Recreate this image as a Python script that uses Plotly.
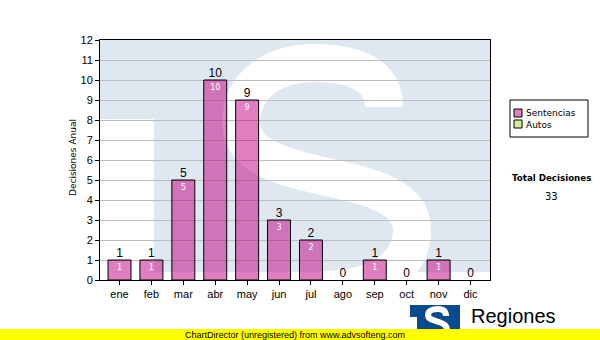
import base64
import plotly.graph_objects as go

months = ["ene", "feb", "mar", "abr", "may", "jun", "jul", "ago", "sep", "oct", "nov", "dic"]
sentencias = [1, 1, 5, 10, 9, 3, 2, 0, 1, 0, 1, 0]
autos = [0, 0, 0, 0, 0, 0, 0, 0, 0, 0, 0, 0]
y_ticks = list(range(0, 13))
total = sum(sentencias) + sum(autos)

PINK = "rgba(193,0,129,0.5)"
PINK_SOLID = "#e080c0"
GREEN = "#d4ec9c"
WM = "#dfe8f1"

# plot area: 390 x 240 px
PW, PH = 390, 240


def uri(svg):
    return "data:image/svg+xml;base64," + base64.b64encode(svg.encode()).decode()


wm_svg = f"""<svg xmlns="http://www.w3.org/2000/svg" width="{PW}" height="{PH}" viewBox="0 0 {PW} {PH}" preserveAspectRatio="none">
<rect x="0" y="0" width="{PW}" height="232" fill="{WM}"/>
<rect x="0" y="79" width="54" height="170" fill="white"/>
<path d="M 284 67 C 284 35, 255 23, 215 23 C 170 23, 141 48, 141 82 C 141 118, 185 128, 240 140
C 290 151, 312 165, 312 190 C 312 225, 280 250, 220 250"
 fill="none" stroke="white" stroke-width="38" stroke-linecap="butt"/>
</svg>"""

logo_svg = """<svg xmlns="http://www.w3.org/2000/svg" width="50" height="24" viewBox="0 0 50 24" preserveAspectRatio="none">
<rect x="0" y="0" width="50" height="24" fill="#0b4a8b"/>
<rect x="0" y="12" width="7" height="12" fill="white"/>
<path d="M 36 11 C 36 6, 33 4, 28 4 C 22 4, 18 6, 18 10 C 18 14, 22 15, 29 17 C 35 19, 37 21, 37 26"
 fill="none" stroke="white" stroke-width="6"/>
</svg>"""

fig = go.Figure()

fig.add_trace(go.Bar(
    x=months, y=sentencias, name="Sentencias",
    marker=dict(color=PINK, line=dict(color="black",
                                      width=[1 if v > 0 else 0 for v in sentencias])),
    width=0.72,
    text=[str(v) if v > 0 else "" for v in sentencias],
    textposition="inside", insidetextanchor="end",
    textfont=dict(family="DejaVu Sans", size=8, color="white"),
    constraintext="none", cliponaxis=False,
    showlegend=False,
))
fig.add_trace(go.Scatter(
    x=months, y=sentencias, mode="text",
    text=[str(v) for v in sentencias], textposition="top center",
    textfont=dict(family="Arial", size=12, color="black"),
    showlegend=False, cliponaxis=False,
))


def px(x):
    return (x - 100) / PW


def py(y):
    return (280 - y) / PH


shapes = [
    dict(type="rect", xref="paper", yref="paper", x0=px(0), x1=px(600),
         y0=py(340), y1=py(329), fillcolor="#ffff00", line=dict(width=0), layer="above"),
    dict(type="rect", xref="paper", yref="paper", x0=px(510), x1=px(588),
         y0=py(137), y1=py(100), line=dict(color="black", width=1),
         fillcolor="white", layer="above"),
    dict(type="rect", xref="paper", yref="paper", x0=px(514), x1=px(522),
         y0=py(117), y1=py(109), line=dict(color="black", width=1),
         fillcolor=PINK_SOLID, layer="above"),
    dict(type="rect", xref="paper", yref="paper", x0=px(514), x1=px(522),
         y0=py(128), y1=py(120), line=dict(color="black", width=1),
         fillcolor=GREEN, layer="above"),
]

images = [
    dict(source=uri(wm_svg), xref="paper", yref="paper", x=0, y=1, sizex=1, sizey=1,
         xanchor="left", yanchor="top", sizing="stretch", layer="below"),
    dict(source=uri(logo_svg), xref="paper", yref="paper", x=px(410), y=py(305),
         sizex=50 / PW, sizey=24 / PH, xanchor="left", yanchor="top",
         sizing="stretch", layer="above"),
]

annotations = [
    dict(text="Decisiones Anual", xref="paper", yref="paper", x=px(73), y=py(158),
         textangle=-90, showarrow=False, xanchor="center", yanchor="middle",
         font=dict(family="DejaVu Sans", size=9, color="black")),
    dict(text="Sentencias", xref="paper", yref="paper", x=px(524), y=py(113),
         showarrow=False, xanchor="left", yanchor="middle",
         font=dict(family="DejaVu Sans", size=9, color="black")),
    dict(text="Autos", xref="paper", yref="paper", x=px(524), y=py(124.5),
         showarrow=False, xanchor="left", yanchor="middle",
         font=dict(family="DejaVu Sans", size=9, color="black")),
    dict(text="<b>Total Decisiones</b>", xref="paper", yref="paper", x=px(551), y=py(178),
         showarrow=False, xanchor="center", yanchor="middle",
         font=dict(family="DejaVu Sans", size=8.7, color="black")),
    dict(text=str(total), xref="paper", yref="paper", x=px(551), y=py(196),
         showarrow=False, xanchor="center", yanchor="middle",
         font=dict(family="DejaVu Sans", size=10, color="black")),
    dict(text="ChartDirector (unregistered) from www.advsofteng.com", xref="paper", yref="paper",
         x=px(295), y=py(334.5), showarrow=False, xanchor="center", yanchor="middle",
         font=dict(family="Arial", size=9, color="black")),
    dict(text="Regiones", xref="paper", yref="paper", x=px(469), y=py(316),
         showarrow=False, xanchor="left", yanchor="middle",
         font=dict(family="Arial", size=20, color="black")),
]

fig.update_layout(
    width=600, height=340,
    margin=dict(l=100, r=110, t=40, b=60),
    paper_bgcolor="white", plot_bgcolor="rgba(0,0,0,0)",
    shapes=shapes, annotations=annotations, images=images,
    showlegend=False,
    xaxis=dict(
        type="category", categoryarray=months,
        showline=True, linecolor="black", linewidth=1, mirror=True,
        ticks="outside", ticklen=4, tickcolor="black",
        tickfont=dict(family="Arial", size=11, color="black"),
        showgrid=False, fixedrange=True,
    ),
    yaxis=dict(
        range=[0, 12], tickvals=y_ticks,
        showline=True, linecolor="black", linewidth=1, mirror=True,
        ticks="outside", ticklen=4, tickcolor="black",
        tickfont=dict(family="Arial", size=11, color="black"),
        showgrid=True, gridcolor="#bdbdbd", gridwidth=1,
        zeroline=False, fixedrange=True,
    ),
)

fig.write_html("out.html")
